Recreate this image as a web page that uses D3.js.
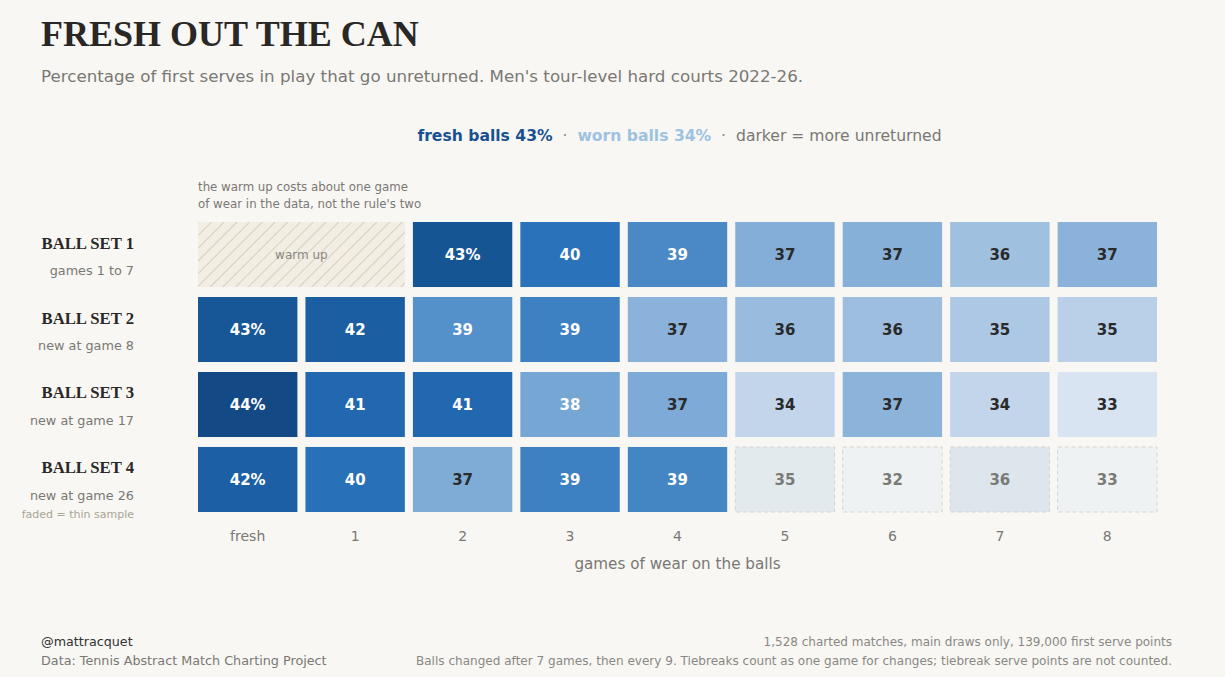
<!DOCTYPE html>
<html><head><meta charset="utf-8">
<script src="https://cdn.jsdelivr.net/npm/d3@7"></script>
<style>
html,body{margin:0;padding:0;background:#f8f7f3;}
svg{display:block;}
</style></head>
<body><svg id="c" width="1225" height="677"></svg>
<script>
const categories = ["fresh","1","2","3","4","5","6","7","8"];
const rowNames = ["BALL SET 1","BALL SET 2","BALL SET 3","BALL SET 4"];
const rowSubs = ["games 1 to 7","new at game 8","new at game 17","new at game 26"];
// estimated underlying values (labels show rounded numbers)
const set1 = [null, null, 43.2, 40.2, 39.0, 37.0, 36.9, 36.0, 36.8];
const set2 = [43.0, 42.2, 38.7, 39.4, 36.8, 36.3, 36.1, 35.4, 34.8];
const set3 = [44.2, 41.0, 41.0, 37.6, 37.3, 34.4, 36.7, 34.4, 33.2];
const set4 = [42.1, 40.4, 37.2, 39.4, 39.2, 35.1, 32.2, 36.0, 33.0];
const faded4 = [false,false,false,false,false,true,true,true,true];
const colorStops = [33, 34.5, 36, 37, 38, 39, 40, 41, 42, 43, 44.5];
const colorRange = ["#dce7f3","#c0d4ea","#a0c0e0","#84aed8","#6ca0d1","#4a89c6","#2c75bb","#2168b0","#1d60a5","#175797","#124580"];

const allSets = [set1, set2, set3, set4];
const cells = [];
allSets.forEach((arr, r) => {
  let first = true;
  arr.forEach((v, c) => {
    if (v === null) return;
    cells.push({row: rowNames[r], col: categories[c], v, first, faded: r === 3 && faded4[c]});
    first = false;
  });
});

const svg = d3.select("#c");
const color = d3.scaleLinear().domain(colorStops).range(colorRange).clamp(true);
const x = d3.scaleBand().domain(categories).range([198, 1157]).paddingInner(0.075);
const y = d3.scaleBand().domain(rowNames).range([222, 512]).paddingInner(0.133);

const sans = "DejaVu Sans, sans-serif";
const serif = "Liberation Serif, Times New Roman, serif";

// pattern
const defs = svg.append("defs");
const pat = defs.append("pattern").attr("id","hatch").attr("patternUnits","userSpaceOnUse")
  .attr("width",9).attr("height",9).attr("patternTransform","rotate(45)");
pat.append("rect").attr("width",9).attr("height",9).attr("fill","#f2eee4");
pat.append("line").attr("x1",0).attr("y1",0).attr("x2",0).attr("y2",9)
  .attr("stroke","#c8bfae").attr("stroke-width",1.3);

// title
svg.append("text").attr("x",41).attr("y",46).text("FRESH OUT THE CAN")
  .attr("font-family",serif).attr("font-weight","bold").attr("font-size",36).attr("fill","#2a2826");
svg.append("text").attr("x",41).attr("y",82)
  .text("Percentage of first serves in play that go unreturned. Men's tour-level hard courts 2022-26.")
  .attr("font-family",sans).attr("font-size",16.7).attr("fill","#7a7874");

// legend line
const lg = svg.append("text").attr("x",679.5).attr("y",141).attr("text-anchor","middle")
  .attr("font-family",sans).attr("font-size",15.6).style("white-space","pre");
lg.append("tspan").text("fresh balls 43%").attr("font-weight","bold").attr("fill","#1a5190");
lg.append("tspan").text("  ·  ").attr("fill","#8a8884");
lg.append("tspan").text("worn balls 34%").attr("font-weight","bold").attr("fill","#9ec2e2");
lg.append("tspan").text("  ·  ").attr("fill","#8a8884");
lg.append("tspan").text("darker = more unreturned").attr("fill","#7a7874");

// annotation
const ann = svg.append("text").attr("x",198).attr("font-family",sans).attr("font-size",11.8).attr("fill","#7a7874");
ann.append("tspan").attr("x",198).attr("y",191).text("the warm up costs about one game");
ann.append("tspan").attr("x",198).attr("y",208).text("of wear in the data, not the rule's two");

// warm-up cell
const wx0 = x("fresh"), wx1 = x("1") + x.bandwidth();
svg.append("rect").attr("x",wx0).attr("y",y(rowNames[0])).attr("width",wx1-wx0).attr("height",y.bandwidth())
  .attr("fill","url(#hatch)");
svg.append("text").attr("x",(wx0+wx1)/2).attr("y",y(rowNames[0])+y.bandwidth()/2+4.5)
  .attr("text-anchor","middle").attr("font-family",sans).attr("font-size",12).attr("fill","#8a8780").text("warm up");

// cells
const g = svg.append("g").selectAll("g").data(cells).join("g");
g.append("rect")
  .attr("x",d=>x(d.col)).attr("y",d=>y(d.row)).attr("width",x.bandwidth()).attr("height",y.bandwidth())
  .attr("fill",d=>color(d.v)).attr("fill-opacity",d=>d.faded?0.3:1)
  .attr("stroke",d=>d.faded?"#d4d4d2":"none").attr("stroke-dasharray",d=>d.faded?"4,3":null)
  .attr("stroke-width",1);
g.append("text")
  .attr("x",d=>x(d.col)+x.bandwidth()/2).attr("y",d=>y(d.row)+y.bandwidth()/2+5.5)
  .attr("text-anchor","middle").attr("font-family",sans).attr("font-weight","bold").attr("font-size",15)
  .attr("fill",d=>d.faded?"#7a7a76":(d.v>=37.5?"#ffffff":"#2a2a2a"))
  .text(d=>Math.round(d.v)+(d.first?"%":""));

// row labels
rowNames.forEach((r,i)=>{
  const cy = y(r)+y.bandwidth()/2;
  svg.append("text").attr("x",134).attr("y",cy-6).attr("text-anchor","end")
    .attr("font-family",serif).attr("font-weight","bold").attr("font-size",16.7).attr("fill","#2a2826").text(r);
  svg.append("text").attr("x",134).attr("y",cy+20.5).attr("text-anchor","end")
    .attr("font-family",sans).attr("font-size",12.8).attr("fill","#7a7874").text(rowSubs[i]);
});
svg.append("text").attr("x",134).attr("y",518).attr("text-anchor","end")
  .attr("font-family",sans).attr("font-size",11).attr("fill","#aaa396").text("faded = thin sample");

// x axis
const xa = svg.append("g").attr("transform","translate(0,522)")
  .call(d3.axisBottom(x).tickSize(0).tickPadding(0));
xa.select(".domain").remove();
xa.selectAll("text").attr("dy",null).attr("y",19).attr("font-family",sans).attr("font-size",14).attr("fill","#7a7874");
svg.append("text").attr("x",(198+1157)/2).attr("y",569).attr("text-anchor","middle")
  .attr("font-family",sans).attr("font-size",15.2).attr("fill","#7a7874").text("games of wear on the balls");

// footer
svg.append("text").attr("x",41).attr("y",646).attr("font-family",sans).attr("font-size",12.7).attr("fill","#333").text("@mattracquet");
svg.append("text").attr("x",41).attr("y",665).attr("font-family",sans).attr("font-size",12.75).attr("fill","#7a7874").text("Data: Tennis Abstract Match Charting Project");
svg.append("text").attr("x",1172).attr("y",646).attr("text-anchor","end").attr("font-family",sans).attr("font-size",12).attr("fill","#8a8884").text("1,528 charted matches, main draws only, 139,000 first serve points");
svg.append("text").attr("x",1172).attr("y",665).attr("text-anchor","end").attr("font-family",sans).attr("font-size",12.06).attr("fill","#8a8884").text("Balls changed after 7 games, then every 9. Tiebreaks count as one game for changes; tiebreak serve points are not counted.");
</script>
</body></html>
